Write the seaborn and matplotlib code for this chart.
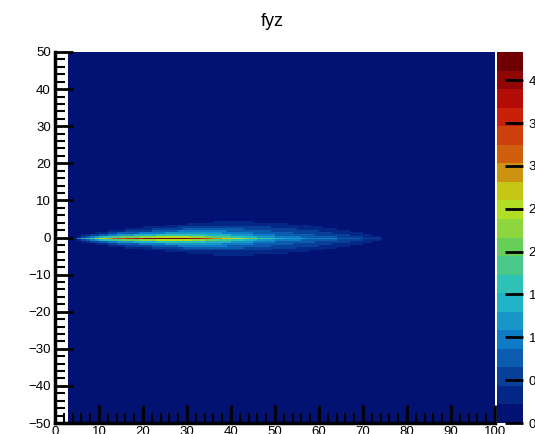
import numpy as np
import matplotlib
matplotlib.use('Agg')
import matplotlib.pyplot as plt
from matplotlib.colors import LinearSegmentedColormap, ListedColormap
import seaborn as sns

# values: one entry per 1-unit column, x = 4 .. 73
x_start = 4
# value on the ridge (z)
peak = [0.40, 0.90, 1.30, 1.60, 1.90, 2.20, 2.45, 2.70, 2.90, 3.10,
        3.25, 3.40, 3.50, 3.60, 3.70, 3.80, 3.90, 4.00, 4.08, 4.15,
        4.22, 4.28, 4.33, 4.30, 4.22, 4.12, 4.00, 3.85, 3.70, 3.50,
        3.30, 3.10, 2.95, 2.82, 2.72, 2.64, 2.56, 2.46, 2.35, 2.22,
        2.08, 1.95, 1.82, 1.70, 1.58, 1.48, 1.40, 1.33, 1.27, 1.22,
        1.18, 1.14, 1.10, 1.07, 1.04, 1.01, 0.98, 0.95, 0.92, 0.88,
        0.84, 0.80, 0.76, 0.72, 0.68, 0.64, 0.60, 0.55, 0.50, 0.45]
# level of the wide halo around the ridge
halo = [0.10, 0.20, 0.30, 0.40, 0.50, 0.60, 0.70, 0.75, 0.80, 0.85,
        0.90, 0.92, 0.95, 0.97, 1.00, 1.00, 1.02, 1.04, 1.06, 1.08,
        1.10, 1.12, 1.14, 1.16, 1.18, 1.19, 1.20, 1.20, 1.20, 1.19,
        1.18, 1.16, 1.14, 1.12, 1.10, 1.07, 1.04, 1.01, 0.98, 0.95,
        0.92, 0.90, 0.88, 0.86, 0.84, 0.82, 0.80, 0.78, 0.76, 0.74,
        0.72, 0.70, 0.68, 0.66, 0.64, 0.62, 0.60, 0.58, 0.56, 0.53,
        0.50, 0.47, 0.44, 0.41, 0.38, 0.35, 0.32, 0.29, 0.26, 0.23]
# halo width in y
sigma = [0.20, 0.30, 0.42, 0.55, 0.68, 0.80, 0.90, 1.00, 1.10, 1.18,
         1.26, 1.33, 1.40, 1.47, 1.53, 1.59, 1.65, 1.71, 1.77, 1.83,
         1.89, 1.95, 2.00, 2.05, 2.10, 2.15, 2.20, 2.25, 2.30, 2.35,
         2.39, 2.43, 2.47, 2.51, 2.54, 2.57, 2.60, 2.62, 2.64, 2.65,
         2.66, 2.66, 2.66, 2.65, 2.64, 2.62, 2.60, 2.58, 2.56, 2.53,
         2.50, 2.46, 2.42, 2.38, 2.33, 2.27, 2.20, 2.12, 2.04, 1.96,
         1.88, 1.80, 1.70, 1.60, 1.50, 1.38, 1.25, 1.10, 0.95, 0.80]
ridge_y = -0.25
core_decay = 0.62
empty_cols = 3     # x < 3 has no entries (drawn white)
zmax = 4.33

x_ticks = [0, 10, 20, 30, 40, 50, 60, 70, 80, 90, 100]
y_ticks = [-50, -40, -30, -20, -10, 0, 10, 20, 30, 40, 50]
z_ticks = [0, 0.5, 1, 1.5, 2, 2.5, 3, 3.5, 4]

# histogram: 100 bins in x (0..100), 200 bins in y (-50..50)
nx, ny = 100, 200
yc = -50 + 0.25 + 0.5 * np.arange(ny)
Z = np.zeros((ny, nx))
Z[:, :empty_cols] = np.nan
for i, (p, h, s) in enumerate(zip(peak, halo, sigma)):
    dy = yc - ridge_y
    Z[:, x_start + i] = (p - h) * np.exp(-np.abs(dy) / core_decay) + h * np.exp(-0.5 * (dy / s) ** 2)

# ROOT "rainbow" palette, 20 contour levels
stops = [0, .125, .25, .375, .5, .625, .75, .875, 1]
red = [0, 5, 15, 35, 102, 196, 208, 199, 110]
green = [0, 48, 124, 192, 206, 226, 97, 16, 0]
blue = [99, 142, 198, 201, 90, 22, 13, 8, 2]
base = LinearSegmentedColormap.from_list(
    'rainbow55', [(s, (r / 255, g / 255, b / 255)) for s, r, g, b in zip(stops, red, green, blue)])
ncont = 20
cmap = ListedColormap([base(int((i + 0.99) * 255 / ncont) / 254) for i in range(ncont)])

plt.rcParams['font.family'] = ['Liberation Sans', 'DejaVu Sans']

fig = plt.figure(figsize=(5.35, 4.34), dpi=100)
W, H = 535, 434
ax = fig.add_axes([55 / W, 1 - 423 / H, 440 / W, 371 / H])
cax = fig.add_axes([497 / W, 1 - 423 / H, 26 / W, 371 / H])

sns.heatmap(Z, ax=ax, cbar_ax=cax, cmap=cmap, vmin=0, vmax=zmax,
            xticklabels=False, yticklabels=False, cbar_kws={'ticks': z_ticks})
ax.invert_yaxis()

ax.set_xticks(x_ticks)
ax.set_xticklabels([str(v) for v in x_ticks], fontsize=9.5)
ax.set_xticks(np.arange(0, 101, 2), minor=True)
ax.set_yticks([(v + 50) * 2 for v in y_ticks])
ax.set_yticklabels([str(v).replace('-', '\u2212') for v in y_ticks], fontsize=9.5, rotation=0)
ax.set_yticks(np.arange(0, 201, 4), minor=True)
ax.tick_params(which='major', direction='in', length=13, width=2, color='black', pad=2)
ax.tick_params(which='minor', direction='in', length=7, width=1.5, color='black')
ax.tick_params(axis='y', pad=3)
for side in ['left', 'bottom']:
    ax.spines[side].set_visible(True)
    ax.spines[side].set_linewidth(2.5)
    ax.spines[side].set_color('black')

cbar = ax.collections[0].colorbar
cbar.outline.set_visible(False)
cax.set_yticklabels([str(v) for v in z_ticks], fontsize=9.5)
cax.tick_params(direction='in', length=13, width=2, color='black', pad=4)

fig.text(272 / W, 1 - 22 / H, 'fyz', ha='center', va='center', fontsize=13)

fig.savefig('out.png', dpi=100)
